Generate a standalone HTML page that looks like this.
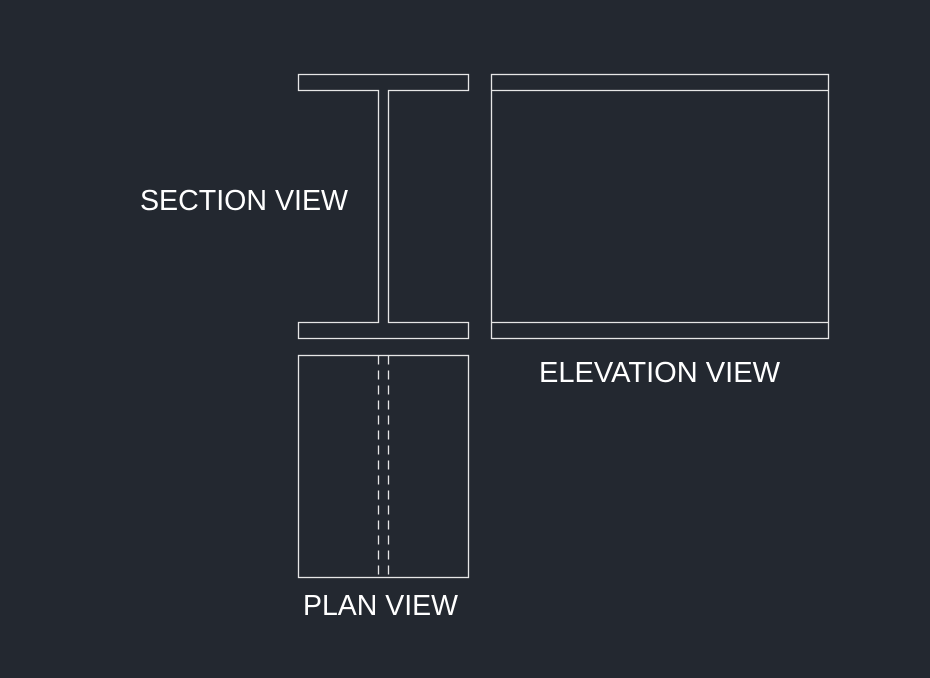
<!DOCTYPE html>
<html><head><meta charset="utf-8"><style>
html,body{margin:0;padding:0;background:#232830;}
svg{display:block}
text{font-family:"Liberation Sans",sans-serif;font-size:28.5px;fill:#ffffff}
</style></head><body>
<svg width="930" height="678" viewBox="0 0 930 678" xmlns="http://www.w3.org/2000/svg">
<rect width="930" height="678" fill="#232830"/>
<g fill="none" stroke="#e6e6e6" stroke-width="1.3">
<path d="M298.5 74.5 H468.5 V90.5 H388.5 V322.5 H468.5 V338.5 H298.5 V322.5 H378.5 V90.5 H298.5 Z"/>
<rect x="491.5" y="74.5" width="337" height="264"/>
<line x1="491.5" y1="90.5" x2="828.5" y2="90.5"/>
<line x1="491.5" y1="322.5" x2="828.5" y2="322.5"/>
<rect x="298.5" y="355.5" width="170" height="222"/>
<line x1="378.5" y1="355.5" x2="378.5" y2="577.5" stroke-dasharray="9 6"/>
<line x1="388.5" y1="355.5" x2="388.5" y2="577.5" stroke-dasharray="9 6"/>
</g>
<text x="140" y="210" textLength="208" lengthAdjust="spacingAndGlyphs">SECTION VIEW</text>
<text x="539" y="382" textLength="241" lengthAdjust="spacingAndGlyphs">ELEVATION VIEW</text>
<text x="303" y="615" textLength="155" lengthAdjust="spacingAndGlyphs">PLAN VIEW</text>
</svg>
</body></html>
